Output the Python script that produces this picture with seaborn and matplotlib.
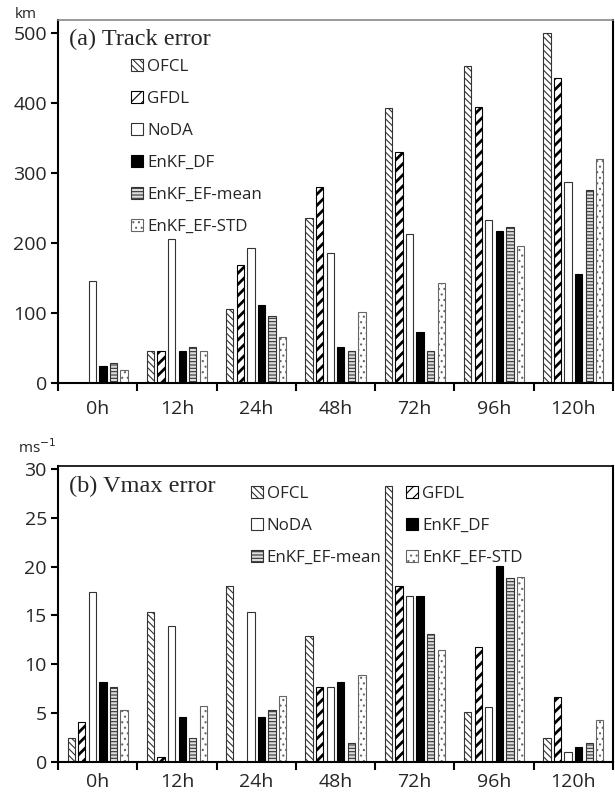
import numpy as np
import pandas as pd
import seaborn as sns
import matplotlib
matplotlib.use("Agg")
import matplotlib.pyplot as plt
from matplotlib.patches import Patch

hours = ["0h", "12h", "24h", "48h", "72h", "96h", "120h"]
models = ["OFCL", "GFDL", "NoDA", "EnKF_DF", "EnKF_EF-mean", "EnKF_EF-STD"]

# (a) Track error (km)
track_ofcl = [0, 45, 105, 236, 393, 452, 500]
track_gfdl = [0, 45, 168, 279, 329, 394, 435]
track_noda = [145, 205, 193, 185, 213, 233, 287]
track_df = [24, 45, 112, 51, 73, 217, 155]
track_mean = [29, 51, 96, 45, 46, 222, 276]
track_std = [18, 45, 66, 101, 142, 195, 320]

# (b) Vmax error (m/s)
vmax_ofcl = [2.5, 15.4, 18.0, 12.9, 28.3, 5.1, 2.5]
vmax_gfdl = [4.1, 0.5, 0.0, 7.7, 18.0, 11.8, 6.7]
vmax_noda = [17.4, 13.9, 15.4, 7.7, 17.0, 5.6, 1.0]
vmax_df = [8.2, 4.6, 4.6, 8.2, 17.0, 20.1, 1.5]
vmax_mean = [7.7, 2.5, 5.3, 1.9, 13.1, 18.8, 1.9]
vmax_std = [5.3, 5.7, 6.8, 8.9, 11.5, 18.9, 4.3]

track_series = [track_ofcl, track_gfdl, track_noda, track_df, track_mean, track_std]
vmax_series = [vmax_ofcl, vmax_gfdl, vmax_noda, vmax_df, vmax_mean, vmax_std]

def to_long(series):
    rows = []
    for m, vals in zip(models, series):
        for h, v in zip(hours, vals):
            rows.append({"hour": h, "model": m, "value": v})
    return pd.DataFrame(rows)

sns.set_theme(style="white")
plt.rcParams["font.family"] = ["Open Sans", "DejaVu Sans"]
plt.rcParams["hatch.linewidth"] = 0.8

styles = {
    "OFCL": dict(facecolor="white", hatch="\\\\\\\\\\", edgecolor="#333333"),
    "GFDL": dict(facecolor="white", hatch="///", edgecolor="black"),
    "NoDA": dict(facecolor="white", hatch="", edgecolor="#333333"),
    "EnKF_DF": dict(facecolor="black", hatch="", edgecolor="black"),
    "EnKF_EF-mean": dict(facecolor="#dddddd", hatch="-----", edgecolor="#333333"),
    "EnKF_EF-STD": dict(facecolor="white", hatch="...", edgecolor="#666666"),
}

TICK_FS = 14
LEG_FS = 12.2

fig = plt.figure(figsize=(6.15, 7.98), dpi=100)
ax1 = fig.add_axes([58/615, 1-383/798, (613-58)/615, (383-20)/798])
ax2 = fig.add_axes([58/615, 1-762/798, (613-58)/615, (762-466)/798])

def draw(ax, series, ylim, yticks, top_color, xpad):
    df = to_long(series)
    sns.barplot(data=df, x="hour", y="value", hue="model", order=hours,
                hue_order=models, ax=ax, width=0.8, gap=0.3,
                palette=["white"] * 6, legend=False, errorbar=None)
    for m, cont in zip(models, ax.containers):
        st = styles[m]
        for p in cont.patches:
            p.set_facecolor(st["facecolor"])
            p.set_edgecolor(st["edgecolor"])
            p.set_hatch(st["hatch"])
            p.set_linewidth(0.8)
            if m == "GFDL" and hasattr(p, "set_hatch_linewidth"):
                p.set_hatch_linewidth(2.0)
    ax.set_xlim(-0.5, len(hours) - 0.5)
    ax.set_ylim(*ylim)
    ax.set_yticks(yticks)
    ax.set_xlabel("")
    ax.set_ylabel("")
    ax.set_xticks(np.arange(len(hours)))
    ax.set_xticklabels(hours)
    ax.set_xticks(np.arange(len(hours) + 1) - 0.5, minor=True)
    ax.tick_params(axis="x", which="major", length=0, pad=xpad, labelsize=TICK_FS)
    ax.tick_params(axis="x", which="minor", length=6, width=1.5, direction="out",
                   bottom=True, color="black")
    ax.tick_params(axis="y", length=5, width=1.5, direction="out", left=True,
                   labelsize=TICK_FS, pad=3, color="black")
    for s in ax.spines.values():
        s.set_color("black")
        s.set_linewidth(1.5)
    ax.spines["top"].set_color(top_color)
    ax.spines["top"].set_linewidth(1.2)

def handles(order):
    hs = []
    for m in order:
        st = styles[m]
        hs.append(Patch(facecolor=st["facecolor"], edgecolor=st["edgecolor"],
                        hatch=st["hatch"], linewidth=0.8, label=m))
    return hs

draw(ax1, track_series, (0, 518), [0, 100, 200, 300, 400, 500], "#888888", 12)
draw(ax2, vmax_series, (0, 30.3), [0, 5, 10, 15, 20, 25, 30], "black", 8)

ax1.text(0.02, 0.975, "(a) Track error", transform=ax1.transAxes, ha="left", va="top",
         fontsize=17.5, family=["Liberation Serif"])
ax2.text(0.02, 0.965, "(b) Vmax error", transform=ax2.transAxes, ha="left", va="top",
         fontsize=17.5, family=["Liberation Serif"])

ax1.legend(handles=handles(models), loc="upper left", bbox_to_anchor=(0.12, 0.912),
           frameon=False, fontsize=LEG_FS, handlelength=0.7, handleheight=0.7,
           handletextpad=0.25, labelspacing=0.95, borderaxespad=0)
col_order = ["OFCL", "NoDA", "EnKF_EF-mean", "GFDL", "EnKF_DF", "EnKF_EF-STD"]
ax2.legend(handles=handles(col_order), loc="upper left", bbox_to_anchor=(0.335, 0.955),
           frameon=False, fontsize=LEG_FS, handlelength=0.7, handleheight=0.7,
           handletextpad=0.25, labelspacing=0.95, ncol=2, columnspacing=1.45,
           borderaxespad=0)

fig.text(15/615, 1-14/798, "km", fontsize=11, va="center", ha="left")
fig.text(18/615, 1-448/798, "ms$^{-1}$", fontsize=11, va="center", ha="left")

fig.savefig("out.png", dpi=100)
